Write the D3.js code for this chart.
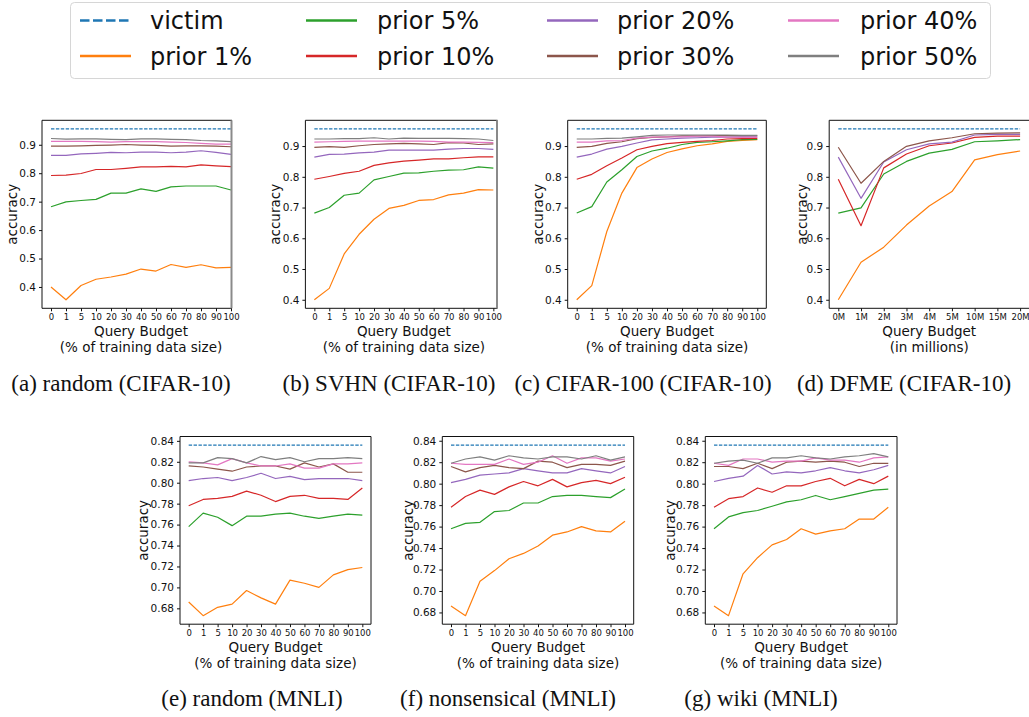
<!DOCTYPE html>
<html>
<head>
<meta charset="utf-8">
<script src="https://cdn.jsdelivr.net/npm/d3@7"></script>
<style>
  html, body { margin: 0; padding: 0; background: #fff; }
  svg text { font-family: "DejaVu Sans", sans-serif; }
  .caption { font-family: "Liberation Serif", "Times New Roman", serif; }
</style>
</head>
<body>
<script>
// ---- data ---------------------------------------------------------------
const pctBudget = ["0", "1", "5", "10", "20", "30", "40", "50", "60", "70", "80", "90", "100"];
const dfmeBudget = ["0M", "1M", "2M", "3M", "4M", "5M", "10M", "15M", "20M"];

const priorLabels = ["prior 1%", "prior 5%", "prior 10%", "prior 20%", "prior 30%", "prior 40%", "prior 50%"];
const victimCifar = 0.956;
const victimMnli = 0.836;

// each row follows priorLabels
const randomCifar = [
  [0.400, 0.355, 0.405, 0.427, 0.435, 0.445, 0.463, 0.456, 0.479, 0.469, 0.478, 0.467, 0.469],
  [0.682, 0.699, 0.704, 0.708, 0.730, 0.730, 0.745, 0.736, 0.752, 0.755, 0.755, 0.755, 0.741],
  [0.792, 0.793, 0.799, 0.813, 0.813, 0.817, 0.822, 0.822, 0.824, 0.822, 0.829, 0.826, 0.823],
  [0.863, 0.863, 0.868, 0.870, 0.873, 0.872, 0.874, 0.874, 0.872, 0.874, 0.879, 0.873, 0.866],
  [0.895, 0.895, 0.896, 0.898, 0.899, 0.901, 0.899, 0.898, 0.895, 0.896, 0.896, 0.895, 0.893],
  [0.912, 0.912, 0.912, 0.911, 0.909, 0.911, 0.911, 0.911, 0.909, 0.908, 0.905, 0.902, 0.902],
  [0.922, 0.920, 0.921, 0.921, 0.919, 0.918, 0.921, 0.921, 0.919, 0.918, 0.915, 0.914, 0.911]
];
const svhnCifar = [
  [0.400, 0.437, 0.549, 0.613, 0.662, 0.697, 0.707, 0.723, 0.726, 0.741, 0.747, 0.758, 0.757],
  [0.682, 0.700, 0.740, 0.747, 0.790, 0.801, 0.812, 0.813, 0.818, 0.822, 0.823, 0.832, 0.828],
  [0.792, 0.801, 0.811, 0.818, 0.837, 0.845, 0.851, 0.854, 0.858, 0.858, 0.862, 0.865, 0.865],
  [0.864, 0.873, 0.874, 0.878, 0.880, 0.887, 0.887, 0.887, 0.887, 0.890, 0.892, 0.892, 0.889],
  [0.896, 0.898, 0.896, 0.901, 0.905, 0.907, 0.909, 0.907, 0.905, 0.911, 0.910, 0.905, 0.907],
  [0.913, 0.914, 0.915, 0.916, 0.916, 0.916, 0.916, 0.916, 0.915, 0.913, 0.913, 0.912, 0.911],
  [0.923, 0.923, 0.924, 0.924, 0.927, 0.923, 0.926, 0.925, 0.925, 0.925, 0.924, 0.923, 0.918]
];
const cifar100Cifar = [
  [0.400, 0.446, 0.622, 0.747, 0.830, 0.858, 0.879, 0.891, 0.901, 0.907, 0.915, 0.918, 0.921],
  [0.682, 0.703, 0.783, 0.823, 0.866, 0.884, 0.893, 0.905, 0.912, 0.914, 0.917, 0.921, 0.922],
  [0.792, 0.808, 0.836, 0.861, 0.888, 0.899, 0.908, 0.912, 0.915, 0.918, 0.923, 0.924, 0.925],
  [0.864, 0.874, 0.890, 0.899, 0.910, 0.920, 0.923, 0.926, 0.927, 0.929, 0.929, 0.930, 0.930],
  [0.896, 0.899, 0.909, 0.914, 0.924, 0.928, 0.930, 0.933, 0.933, 0.934, 0.934, 0.934, 0.934],
  [0.913, 0.913, 0.917, 0.918, 0.926, 0.929, 0.930, 0.930, 0.932, 0.932, 0.929, 0.928, 0.929],
  [0.923, 0.923, 0.925, 0.926, 0.930, 0.935, 0.936, 0.936, 0.936, 0.936, 0.936, 0.935, 0.935]
];
const dfmeCifar = [
  [0.400, 0.522, 0.571, 0.643, 0.705, 0.752, 0.855, 0.872, 0.884],
  [0.682, 0.699, 0.809, 0.850, 0.877, 0.889, 0.914, 0.917, 0.921],
  [0.792, 0.641, 0.829, 0.874, 0.901, 0.910, 0.928, 0.932, 0.932],
  [0.864, 0.730, 0.848, 0.888, 0.907, 0.913, 0.936, 0.938, 0.938],
  [0.896, 0.779, 0.850, 0.899, 0.917, 0.927, 0.940, 0.942, 0.943],
  null,
  null
];
const randomMnli = [
  [0.686, 0.673, 0.681, 0.684, 0.697, 0.690, 0.684, 0.707, 0.704, 0.700, 0.712, 0.717, 0.719],
  [0.758, 0.771, 0.767, 0.759, 0.768, 0.768, 0.770, 0.771, 0.768, 0.766, 0.768, 0.770, 0.769],
  [0.778, 0.784, 0.785, 0.787, 0.792, 0.788, 0.782, 0.787, 0.788, 0.785, 0.785, 0.784, 0.795],
  [0.802, 0.804, 0.805, 0.802, 0.805, 0.809, 0.804, 0.806, 0.803, 0.804, 0.804, 0.804, 0.802],
  [0.816, 0.815, 0.813, 0.811, 0.815, 0.816, 0.816, 0.813, 0.819, 0.815, 0.818, 0.810, 0.810],
  [0.820, 0.819, 0.817, 0.823, 0.819, 0.816, 0.816, 0.818, 0.814, 0.814, 0.818, 0.818, 0.819],
  [0.819, 0.819, 0.824, 0.823, 0.819, 0.825, 0.822, 0.824, 0.820, 0.823, 0.823, 0.824, 0.823]
];
const nonsenseMnli = [
  [0.686, 0.677, 0.709, 0.719, 0.730, 0.735, 0.742, 0.752, 0.755, 0.760, 0.756, 0.755, 0.765],
  [0.758, 0.763, 0.764, 0.774, 0.775, 0.782, 0.782, 0.788, 0.789, 0.789, 0.788, 0.787, 0.795],
  [0.778, 0.788, 0.794, 0.790, 0.797, 0.802, 0.798, 0.804, 0.797, 0.801, 0.803, 0.800, 0.806],
  [0.801, 0.804, 0.808, 0.809, 0.810, 0.814, 0.812, 0.810, 0.810, 0.814, 0.812, 0.810, 0.816],
  [0.816, 0.811, 0.815, 0.817, 0.815, 0.814, 0.821, 0.820, 0.815, 0.818, 0.818, 0.817, 0.821],
  [0.819, 0.818, 0.818, 0.818, 0.823, 0.818, 0.820, 0.826, 0.819, 0.824, 0.824, 0.821, 0.823],
  [0.819, 0.823, 0.825, 0.822, 0.826, 0.824, 0.823, 0.825, 0.825, 0.823, 0.826, 0.822, 0.825]
];
const wikiMnli = [
  [0.686, 0.677, 0.716, 0.731, 0.743, 0.748, 0.758, 0.753, 0.756, 0.758, 0.767, 0.767, 0.778],
  [0.758, 0.769, 0.773, 0.775, 0.779, 0.783, 0.785, 0.789, 0.785, 0.788, 0.791, 0.794, 0.795],
  [0.778, 0.786, 0.788, 0.796, 0.792, 0.798, 0.798, 0.802, 0.805, 0.798, 0.804, 0.800, 0.807],
  [0.802, 0.805, 0.807, 0.817, 0.809, 0.811, 0.810, 0.812, 0.815, 0.812, 0.810, 0.813, 0.817],
  [0.816, 0.816, 0.814, 0.819, 0.814, 0.820, 0.821, 0.820, 0.821, 0.820, 0.816, 0.819, 0.819],
  [0.819, 0.817, 0.823, 0.823, 0.820, 0.821, 0.821, 0.824, 0.822, 0.822, 0.820, 0.824, 0.825],
  [0.819, 0.821, 0.822, 0.819, 0.824, 0.824, 0.826, 0.824, 0.823, 0.825, 0.826, 0.828, 0.825]
];

const cifarTicks = [0.4, 0.5, 0.6, 0.7, 0.8, 0.9];
const mnliTicks = [0.68, 0.70, 0.72, 0.74, 0.76, 0.78, 0.80, 0.82, 0.84];

// ---- styling / layout ---------------------------------------------------
const victimColor = "#1f77b4";
const priorColors = ["#ff7f0e", "#2ca02c", "#d62728", "#9467bd", "#8c564b", "#e377c2", "#7f7f7f"];

const W = 1029, H = 717;
const svg = d3.select("body").append("svg")
  .attr("width", W).attr("height", H)
  .attr("viewBox", `0 0 ${W} ${H}`);
svg.append("rect").attr("width", W).attr("height", H).attr("fill", "#fff");

const topRow = { top: 120.3, bottom: 308.3, xlab: 331, xlab2: 347, capY: 391 };
const botRow = { top: 436.5, bottom: 624.2, xlab: 647, xlab2: 663, capY: 706 };

const panels = [
  { series: randomCifar, victim: victimCifar, labels: pctBudget, yTicks: cifarTicks, fmt: ".1f",
    left: 42, right: 240, visRight: 232, row: topRow, ylabDx: -30, sub: "(% of training data size)",
    caption: "(a) random (CIFAR-10)", capX: 121 },
  { series: svhnCifar, victim: victimCifar, labels: pctBudget, yTicks: cifarTicks, fmt: ".1f",
    left: 305.4, right: 502.3, visRight: 497.5, row: topRow, ylabDx: -30, sub: "(% of training data size)",
    caption: "(b) SVHN (CIFAR-10)", capX: 389 },
  { series: cifar100Cifar, victim: victimCifar, labels: pctBudget, yTicks: cifarTicks, fmt: ".1f",
    left: 567.7, right: 766.3, visRight: null, row: topRow, ylabDx: -30, sub: "(% of training data size)",
    caption: "(c) CIFAR-100 (CIFAR-10)", capX: 643 },
  { series: dfmeCifar, victim: victimCifar, labels: dfmeBudget, yTicks: cifarTicks, fmt: ".1f",
    left: 829.2, right: 1029.2, visRight: 1029, row: topRow, ylabDx: -27, sub: "(in millions)",
    caption: "(d) DFME (CIFAR-10)", capX: 904 },
  { series: randomMnli, victim: victimMnli, labels: pctBudget, yTicks: mnliTicks, fmt: ".2f",
    left: 180, right: 371, visRight: null, row: botRow, ylabDx: -37, sub: "(% of training data size)",
    caption: "(e) random (MNLI)", capX: 252 },
  { series: nonsenseMnli, victim: victimMnli, labels: pctBudget, yTicks: mnliTicks, fmt: ".2f",
    left: 442.3, right: 633.7, visRight: null, row: botRow, ylabDx: -34, sub: "(% of training data size)",
    caption: "(f) nonsensical (MNLI)", capX: 508 },
  { series: wikiMnli, victim: victimMnli, labels: pctBudget, yTicks: mnliTicks, fmt: ".2f",
    left: 705.3, right: 897, visRight: null, row: botRow, ylabDx: -35, sub: "(% of training data size)",
    caption: "(g) wiki (MNLI)", capX: 761 }
];

const defs = svg.append("defs");

panels.forEach((p, k) => {
  const n = p.labels.length;
  const pad = 0.05 * (n - 1);
  const x = d3.scaleLinear().domain([-pad, n - 1 + pad]).range([p.left, p.right]);

  const all = [p.victim];
  p.series.forEach(s => { if (s) all.push(...s); });
  const [lo, hi] = d3.extent(all);
  const m = 0.05 * (hi - lo);
  const y = d3.scaleLinear().domain([lo - m, hi + m]).range([p.row.bottom, p.row.top]);

  const rightEdge = p.visRight != null ? p.visRight : p.right;
  const g = svg.append("g");

  defs.append("clipPath").attr("id", "clip" + k)
    .append("rect")
    .attr("x", p.left).attr("y", p.row.top)
    .attr("width", rightEdge - p.left).attr("height", p.row.bottom - p.row.top);

  const plot = g.append("g").attr("clip-path", `url(#clip${k})`);

  // victim reference accuracy
  plot.append("line")
    .attr("x1", x(0)).attr("x2", x(n - 1))
    .attr("y1", y(p.victim)).attr("y2", y(p.victim))
    .attr("stroke", victimColor).attr("stroke-width", 1.3)
    .attr("stroke-dasharray", "3.4,1.5");

  const line = d3.line().x((d, i) => x(i)).y(d => y(d));
  p.series.forEach((s, j) => {
    if (!s) return;
    plot.append("path").datum(s)
      .attr("d", line)
      .attr("fill", "none")
      .attr("stroke", priorColors[j])
      .attr("stroke-width", 1.2)
      .attr("stroke-linejoin", "round");
  });

  // axes
  const yAxis = d3.axisLeft(y).tickValues(p.yTicks).tickFormat(d3.format(p.fmt))
    .tickSize(3).tickPadding(3);
  const ya = g.append("g").attr("transform", `translate(${p.left},0)`).call(yAxis);
  ya.select(".domain").remove();
  ya.selectAll("text").attr("font-size", "10.5px").attr("fill", "#111")
    .attr("font-family", "DejaVu Sans");
  ya.selectAll("line").attr("stroke", "#111");

  const xAxis = d3.axisBottom(x).tickValues(d3.range(n)).tickFormat(i => p.labels[i])
    .tickSize(3).tickPadding(2.5);
  const xa = g.append("g").attr("transform", `translate(0,${p.row.bottom})`).call(xAxis);
  xa.select(".domain").remove();
  xa.selectAll("text").attr("font-size", "8.5px").attr("fill", "#111")
    .attr("font-family", "DejaVu Sans");
  xa.selectAll("line").attr("stroke", "#111");

  // spines
  const sp = g.append("g").attr("stroke", "#111").attr("stroke-width", 1).attr("fill", "none");
  sp.append("line").attr("x1", p.left).attr("x2", p.left).attr("y1", p.row.top).attr("y2", p.row.bottom);
  sp.append("line").attr("x1", p.left).attr("x2", rightEdge).attr("y1", p.row.top).attr("y2", p.row.top);
  sp.append("line").attr("x1", p.left).attr("x2", rightEdge).attr("y1", p.row.bottom).attr("y2", p.row.bottom);
  if (p.visRight == null) {
    sp.append("line").attr("x1", p.right).attr("x2", p.right).attr("y1", p.row.top).attr("y2", p.row.bottom);
  } else if (p.visRight < W - 1) {
    g.append("line").attr("x1", rightEdge - 0.5).attr("x2", rightEdge - 0.5)
      .attr("y1", p.row.top).attr("y2", p.row.bottom)
      .attr("stroke", "#8a8a8a").attr("stroke-width", 2);
  }

  // axis titles
  const cx = (p.left + p.right) / 2;
  g.append("text").attr("x", cx).attr("y", p.row.xlab).attr("text-anchor", "middle")
    .attr("dominant-baseline", "central").attr("font-size", "13.5px").attr("fill", "#111")
    .text("Query Budget");
  g.append("text").attr("x", cx).attr("y", p.row.xlab2).attr("text-anchor", "middle")
    .attr("dominant-baseline", "central").attr("font-size", "13.5px").attr("fill", "#111")
    .text(p.sub);
  const cy = (p.row.top + p.row.bottom) / 2;
  g.append("text")
    .attr("transform", `translate(${p.left + p.ylabDx},${cy}) rotate(-90)`)
    .attr("text-anchor", "middle").attr("dominant-baseline", "central")
    .attr("font-size", "13.5px").attr("fill", "#111")
    .text("accuracy");

  // caption
  svg.append("text").attr("class", "caption")
    .attr("x", p.capX).attr("y", p.row.capY).attr("text-anchor", "middle")
    .attr("font-size", "23px").attr("fill", "#111")
    .text(p.caption);
});

// ---- legend -------------------------------------------------------------
const legendItems = [{ name: "victim", color: victimColor, dash: true }]
  .concat(priorLabels.map((name, i) => ({ name, color: priorColors[i], dash: false })));

const lg = svg.append("g");
lg.append("rect").attr("x", 70.5).attr("y", 2.5).attr("width", 920).attr("height", 76)
  .attr("rx", 4).attr("fill", "#fff").attr("stroke", "#d6d6d6").attr("stroke-width", 1);

const colHandle = [80, 306, 547, 788];
const colText = [150, 377, 617, 860];
const rowY = [20.5, 56];
const rowBase = [29, 65];

legendItems.forEach((it, i) => {
  const c = Math.floor(i / 2), r = i % 2;
  lg.append("line")
    .attr("x1", colHandle[c]).attr("x2", colHandle[c] + 51)
    .attr("y1", rowY[r]).attr("y2", rowY[r])
    .attr("stroke", it.color).attr("stroke-width", 2.6)
    .attr("stroke-dasharray", it.dash ? "9.5,3.5" : null);
  lg.append("text").attr("x", colText[c]).attr("y", rowBase[r])
    .attr("font-size", "24px").attr("fill", "#111")
    .text(it.name);
});
</script>
</body>
</html>
